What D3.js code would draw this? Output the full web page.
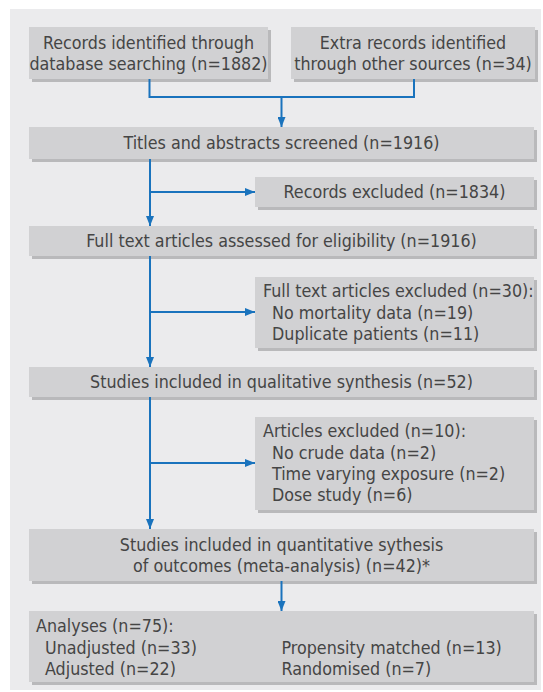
<!DOCTYPE html>
<html lang="en">
<head>
<meta charset="UTF-8">
<title>Study selection flow</title>
<script src="https://d3js.org/d3.v7.min.js"></script>
<style>
  body { margin: 0; padding: 0; background: #fff; }
  svg { display: block; }
  .panel { fill: #ebebed; }
  .box { fill: #d1d1d3; }
  .shadow { fill: #b9b9bb; }
  .flow { stroke: #1a73bd; stroke-width: 2; fill: none; }
  text { fill: #454545; font-family: "Liberation Sans Narrow", "DejaVu Sans Condensed", "Open Sans", sans-serif; }
</style>
</head>
<body>
<svg width="543" height="692"></svg>
<script>
// ---- data ----
const sourceLines = [["Records identified through", "database searching"], ["Extra records identified", "through other sources"]];
const sourceCounts = [1882, 34];
const stageLines = [["Titles and abstracts screened"], ["Full text articles assessed for eligibility"],
                    ["Studies included in qualitative synthesis"], ["Studies included in quantitative sythesis", "of outcomes (meta-analysis)"]];
const stageCounts = [1916, 1916, 52, 42];
const stageNotes = ["", "", "", "*"];
const excludedLabels = ["Records excluded", "Full text articles excluded", "Articles excluded"];
const excludedCounts = [1834, 30, 10];
const reasonLabels = [[], ["No mortality data", "Duplicate patients"], ["No crude data", "Time varying exposure", "Dose study"]];
const reasonCounts = [[], [19, 11], [2, 2, 6]];
const analysisLabel = "Analyses";
const analysisTotal = 75;
const analysisTypes = ["Unadjusted", "Adjusted", "Propensity matched", "Randomised"];
const analysisCounts = [33, 22, 13, 7];

// ---- layout ----
const svg = d3.select("svg");
const lineH = 21.3;
const n = v => `(n=${v})`;

// fit font size so the widest single line matches the original
const probe = svg.append("text").attr("font-size", 100)
  .text(`${stageLines[1][0]} ${n(stageCounts[1])}`);
const fs = 391 / probe.node().getComputedTextLength() * 100;
probe.remove();

const left = 29, right = 534, mid = (left + right) / 2;
const spineX = 150, sideX = 255;

svg.append("rect").attr("class", "panel").attr("x", 10).attr("y", 9).attr("width", 531).attr("height", 681);

const defs = svg.append("defs");
defs.append("marker").attr("id", "head")
  .attr("viewBox", "0 0 10 8").attr("refX", 10).attr("refY", 4)
  .attr("markerWidth", 10).attr("markerHeight", 8)
  .attr("markerUnits", "userSpaceOnUse").attr("orient", "auto")
  .append("path").attr("d", "M0,0L10,4L0,8Z").attr("fill", "#1a73bd");

function box(x0, y0, x1, y1) {
  const g = svg.append("g");
  g.append("rect").attr("class", "shadow").attr("x", x0 + 3).attr("y", y0 + 3).attr("width", x1 - x0).attr("height", y1 - y0);
  g.append("rect").attr("class", "box").attr("x", x0).attr("y", y0).attr("width", x1 - x0).attr("height", y1 - y0);
  return g;
}
// centred multi-line text
function centred(g, lines, cx, y0, y1) {
  const cy = (y0 + y1) / 2 - (lines.length - 1) * lineH / 2;
  g.selectAll(null).data(lines).join("text")
    .attr("x", cx).attr("y", (d, i) => cy + i * lineH)
    .attr("dy", "0.35em").attr("text-anchor", "middle").attr("font-size", fs)
    .text(d => d);
}
// left aligned list: heading + indented items
function listed(g, heading, items, x, y0) {
  g.append("text").attr("x", x).attr("y", y0).attr("dy", "0.35em").attr("font-size", fs).text(heading);
  g.selectAll(null).data(items).join("text")
    .attr("x", x + 9).attr("y", (d, i) => y0 + (i + 1) * lineH)
    .attr("dy", "0.35em").attr("font-size", fs).text(d => d);
}
function arrow(pts, head = true) {
  svg.append("path").attr("class", "flow").attr("d", d3.line()(pts))
    .attr("marker-end", head ? "url(#head)" : null);
}

// source boxes
const srcBoxes = [[29, 268], [291, 535]];
const srcTop = 27, srcBot = 79, joinY = 97;
srcBoxes.forEach(([a, b], i) => {
  const g = box(a, srcTop, b, srcBot);
  const lines = sourceLines[i].slice();
  lines[lines.length - 1] += ` ${n(sourceCounts[i])}`;
  centred(g, lines, (a + b) / 2, srcTop, srcBot);
});
const srcMid = srcBoxes.map(([a, b]) => (a + b) / 2);
arrow([[srcMid[0] + 1, srcBot], [srcMid[0] + 1, joinY], [srcMid[1] + 1, joinY], [srcMid[1] + 1, srcBot]], false);

// main stages
const stageY = [[127, 159], [226, 256], [367, 397], [529, 581]];
arrow([[mid, joinY], [mid, stageY[0][0]]]);
stageY.forEach(([a, b], i) => {
  const g = box(left, a, right, b);
  const lines = stageLines[i].slice();
  lines[lines.length - 1] += ` ${n(stageCounts[i])}${stageNotes[i]}`;
  centred(g, lines, mid, a, b);
});

// exclusions
const exclY = [[177, 207], [277, 348], [417, 510]];
const branchY = [192, 312, 463];
exclY.forEach(([a, b], i) => {
  arrow([[spineX, stageY[i][1]], [spineX, stageY[i + 1][0]]]);
  arrow([[spineX, branchY[i]], [sideX, branchY[i]]]);
  const g = box(sideX, a, right, b);
  const head = `${excludedLabels[i]} ${n(excludedCounts[i])}`;
  if (reasonLabels[i].length === 0) {
    centred(g, [head], (sideX + right) / 2, a, b);
  } else {
    listed(g, head + ":", reasonLabels[i].map((r, j) => `${r} ${n(reasonCounts[i][j])}`), sideX + 8, a + 14);
  }
});

// analyses
const anTop = 611, anBot = 682;
arrow([[mid, stageY[3][1]], [mid, anTop]]);
const ga = box(left, anTop, right, anBot);
const items = analysisTypes.map((t, i) => `${t} ${n(analysisCounts[i])}`);
listed(ga, `${analysisLabel} ${n(analysisTotal)}:`, items.slice(0, 2), left + 7, anTop + 15);
ga.selectAll(null).data(items.slice(2)).join("text")
  .attr("x", mid).attr("y", (d, i) => anTop + 15 + (i + 1) * lineH)
  .attr("dy", "0.35em").attr("font-size", fs).text(d => d);
</script>
</body>
</html>
